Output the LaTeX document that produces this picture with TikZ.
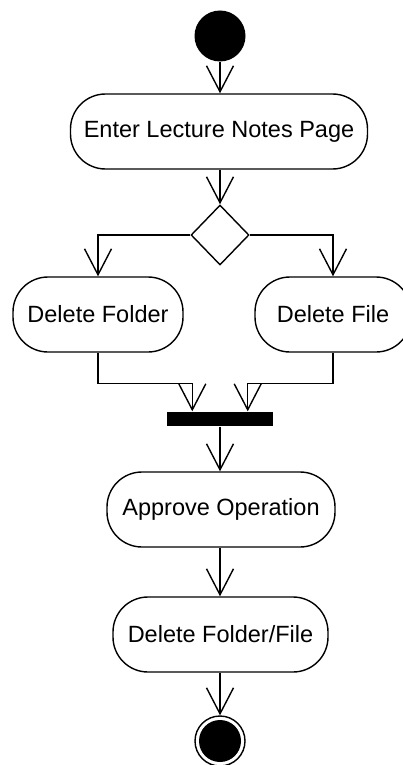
\documentclass[tikz,border=0pt]{standalone}
\usepackage{fontspec}
\setmainfont{Liberation Sans}
\usetikzlibrary{shapes.geometric,arrows.meta}
\begin{document}
\begin{tikzpicture}[x=1pt,y=-1pt,
  every node/.style={line width=1.4pt},
  act/.style={draw, rounded corners=35pt, minimum height=75pt, inner sep=0pt,
    font=\fontsize{23.5}{28}\selectfont},
  arr/.style={line width=1.4pt, -{Straight Barb[length=26pt,width=27pt,line width=1.4pt]}},
  ln/.style={line width=1.4pt}]
\useasboundingbox (0,0) rectangle (403,765);
\node[circle, fill=black, minimum size=51pt, inner sep=0pt] (start) at (220,36) {};
\node[act, minimum width=297pt] (enter) at (219,131.5) {Enter Lecture Notes Page};
\node[diamond, draw, minimum width=58pt, minimum height=60pt, inner sep=0pt] (dec) at (220,235) {};
\node[act, minimum width=170pt] (df) at (98,314.5) {Delete Folder};
\node[act, minimum width=156pt] (dfile) at (333,314.5) {Delete File};
\node[rectangle, fill=black, minimum width=106pt, minimum height=14pt, inner sep=0pt] (bar) at (220,419) {};
\coordinate (barL) at ([xshift=26pt]bar.north west);
\coordinate (barR) at ([xshift=-26pt]bar.north east);
\node[act, minimum width=228pt] (approve) at (221,509.5) {Approve Operation};
\node[act, minimum width=215pt] (delff) at (220.5,634.5) {Delete Folder/File};
\node[circle, draw, minimum size=50pt, inner sep=0pt,
  path picture={\fill (path picture bounding box.center) circle (21pt);}] (end) at (220,741) {};
\draw[arr] (start) -- (enter.north -| start);
\draw[arr] (enter.south -| dec) -- (dec.north);
\draw[arr] (dec.west) -| (df.north);
\draw[arr] (dec.east) -| (dfile.north);
\draw[arr] (df.south) -- ++(0,31) -| (barL);
\draw[arr] (dfile.south) -- ++(0,31) -| (barR);
\draw[arr] (bar.south) -- (approve.north -| bar);
\draw[arr] (approve.south -| bar) -- (delff.north -| bar);
\draw[arr] (delff.south -| end) -- (end.north);
\end{tikzpicture}
\end{document}
